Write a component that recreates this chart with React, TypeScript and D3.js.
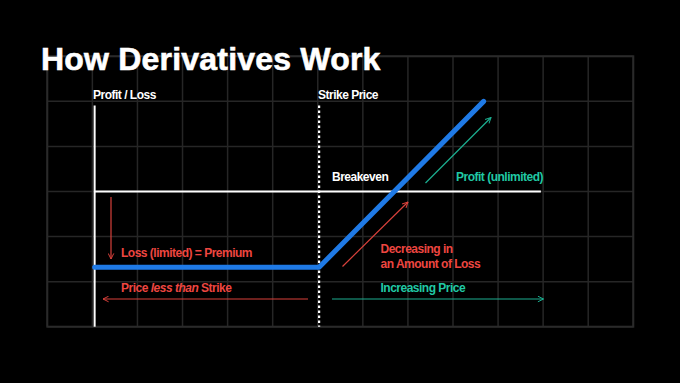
import React from "react";
import * as d3 from "d3";

const W = 680;
const H = 383;

// grid: 13 columns x 6 rows (units)
const gridCols = d3.range(0, 14);
const gridRows = d3.range(0, 7);

// payoff profile: price (grid units) vs profit/loss (grid units, 0 = breakeven)
const payoffPrice = [1.05, 6.03, 9.68];
const payoffPL = [-1.68, -1.68, 2.0];

const axisPrice = 1.05;
const strikePrice = 6.03;
const breakevenEnd = 10.95;

const FONT = "'Liberation Sans', Arial, sans-serif";
const RED = "#ee4640";
const RED_LINE = "#d9413b";
const TEAL = "#20c9a5";
const TEAL_LINE = "#1cae90";
const BLUE = "#1f7ae6";

export default function App() {
  const x = d3.scaleLinear().domain([0, 13]).range([47.3, 633.3]);
  const y = d3.scaleLinear().domain([3, -3]).range([56.3, 326.7]);

  const line = d3
    .line<number>()
    .x((_, i) => x(payoffPrice[i]))
    .y((_, i) => y(payoffPL[i]));

  const arrowHead = (id: string, color: string) => (
    <marker
      id={id}
      viewBox="0 0 10 10"
      refX="9"
      refY="5"
      markerWidth="7"
      markerHeight="7"
      orient="auto-start-reverse"
      markerUnits="userSpaceOnUse"
    >
      <path d="M1,1 L9,5 L1,9" fill="none" stroke={color} strokeWidth={1.4} />
    </marker>
  );

  return (
    <svg
      width={W}
      height={H}
      style={{ position: "absolute", left: 0, top: 0, background: "#000" }}
    >
      <defs>
        {arrowHead("ar", RED_LINE)}
        {arrowHead("at", TEAL_LINE)}
      </defs>
      <rect width={W} height={H} fill="#000" />
      {/* grid */}
      <g stroke="#262626" strokeWidth={1.5}>
        {gridCols.map((c) => (
          <line key={"c" + c} x1={x(c)} x2={x(c)} y1={y(3)} y2={y(-3)} />
        ))}
        {gridRows.map((r) => (
          <line key={"r" + r} x1={x(0)} x2={x(13)} y1={y(3 - r)} y2={y(3 - r)} />
        ))}
      </g>
      <rect
        x={x(0)}
        y={y(3)}
        width={x(13) - x(0)}
        height={y(-3) - y(3)}
        fill="none"
        stroke="#2a2a2a"
        strokeWidth={2}
      />

      {/* title */}
      <text
        x={41}
        y={70}
        fill="#fff"
        stroke="#fff"
        strokeWidth={0.6}
        fontFamily={FONT}
        fontWeight={700}
        fontSize={32}
        letterSpacing={0.2}
      >
        How Derivatives Work
      </text>

      {/* axes */}
      <line x1={x(axisPrice)} x2={x(axisPrice)} y1={105.5} y2={y(-3)} stroke="#fff" strokeWidth={2} />
      <line
        x1={x(strikePrice)}
        x2={x(strikePrice)}
        y1={105.5}
        y2={y(-3)}
        stroke="#fff"
        strokeWidth={2.2}
        strokeDasharray="2.5 2.5"
      />
      <line
        x1={x(axisPrice)}
        x2={x(breakevenEnd)}
        y1={y(0)}
        y2={y(0)}
        stroke="#fff"
        strokeWidth={2}
      />

      <g fontFamily={FONT} fontWeight={700} fontSize={12} fill="#fff" letterSpacing={-0.5}>
        <text x={93} y={99}>Profit / Loss</text>
        <text x={318} y={99}>Strike Price</text>
        <text x={332} y={181}>Breakeven</text>
      </g>

      {/* payoff line */}
      <path
        d={line(payoffPL) || ""}
        fill="none"
        stroke={BLUE}
        strokeWidth={5}
        strokeLinecap="round"
        strokeLinejoin="round"
      />

      {/* arrows */}
      <g strokeWidth={1.2} fill="none">
        <line x1={111} y1={197} x2={111} y2={259} stroke={RED_LINE} markerEnd="url(#ar)" />
        <line x1={308} y1={299} x2={103} y2={299} stroke={RED_LINE} markerEnd="url(#ar)" />
        <line x1={332} y1={299} x2={543.5} y2={299} stroke={TEAL_LINE} markerEnd="url(#at)" />
        <line x1={342.5} y1={266.5} x2={408} y2={202} stroke={RED_LINE} markerEnd="url(#ar)" />
        <line x1={425.5} y1={183} x2={491} y2={117.5} stroke={TEAL_LINE} markerEnd="url(#at)" />
      </g>

      {/* annotations */}
      <g fontFamily={FONT} fontWeight={700} fontSize={12} letterSpacing={-0.5}>
        <text x={121} y={256.5} fill={RED}>Loss (limited) = Premium</text>
        <text x={121} y={292} fill={RED}>
          Price <tspan fontStyle="italic">less than</tspan> Strike
        </text>
        <text x={380.5} y={253} fill={RED}>Decreasing in</text>
        <text x={380.5} y={267.5} fill={RED}>an Amount of Loss</text>
        <text x={380.5} y={292} fill={TEAL}>Increasing Price</text>
        <text x={456} y={181} fill={TEAL}>Profit (unlimited)</text>
      </g>
    </svg>
  );
}
